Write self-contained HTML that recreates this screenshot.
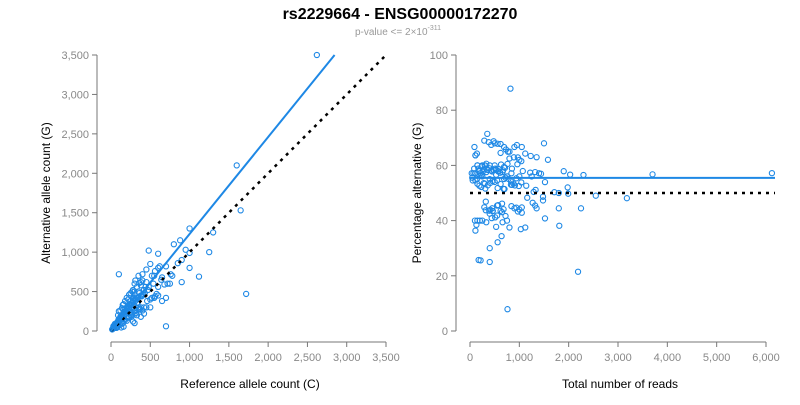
<!DOCTYPE html>
<html><head><meta charset="utf-8"><style>
body{margin:0;background:#fff;font-family:"Liberation Sans",Arial,sans-serif}
svg text{font-family:"Liberation Sans",Arial,sans-serif}
</style></head><body>
<svg id="c" width="800" height="400" xmlns="http://www.w3.org/2000/svg">
<text x="400" y="19" text-anchor="middle" font-size="16" font-weight="bold">rs2229664 - ENSG00000172270</text>
<text x="398" y="35" text-anchor="middle" font-size="10" fill="#999">p-value &lt;= 2×10<tspan dy="-5" font-size="7">-311</tspan></text>
<g id="left"></g>
<g id="right"></g>
<text x="250" y="388" text-anchor="middle" font-size="12">Reference allele count (C)</text>
<text transform="translate(50,193) rotate(-90)" text-anchor="middle" font-size="12">Alternative allele count (G)</text>
<text x="620" y="388" text-anchor="middle" font-size="12">Total number of reads</text>
<text transform="translate(421,193) rotate(-90)" text-anchor="middle" font-size="12">Percentage alternative (G)</text>
</svg>
<script>
const refCounts=[2620,1600,1720,700,1120,1650,1250,950,800,480,100,900,1000,780,620,560,520,600,450,430,400,380,350,330,300,290,280,260,250,240,230,220,210,200,190,180,170,160,150,140,130,120,110,100,90,80,70,60,50,40,30,25,20,15,520,480,460,420,400,380,360,340,320,300,280,260,240,220,200,180,160,140,120,100,80,60,300,350,250,270,310,330,420,440,500,540,580,650,680,720,760,850,330,280,230,190,150,120,90,70,410,370,290,260,210,170,140,110,85,65,45,35,600,550,470,390,310,240,180,130,95,230,260,200,160,350,380,250,300,1300,1000,880,640,700,560,
300,280,230,500,400,350,600,450,200,150,120,80,700,900,260,320,180,550,750,1000,650,420,380,130,160,
100,150,200,250,180,300,350,280,220,400,450,120,90,500,330,270,380,160,600,230,140,310,360,
60,40,50,70,30,90,110];
const altCounts=[3500,2100,470,60,690,1530,1000,1030,1100,1020,720,900,990,700,820,760,700,560,620,480,640,450,500,420,460,330,390,350,300,340,270,310,250,280,220,250,190,230,160,200,150,180,120,150,100,110,80,90,60,70,40,30,25,20,420,560,380,520,450,300,480,360,400,250,380,200,330,170,300,220,240,160,180,130,110,90,500,430,380,290,260,350,300,560,400,600,470,680,590,600,720,860,200,410,300,260,210,170,120,100,470,280,420,200,300,150,190,150,110,80,60,50,800,700,520,440,380,330,250,200,140,180,350,280,130,300,580,200,210,1250,1300,1150,650,820,440,
100,120,170,300,260,270,450,300,130,100,80,50,420,620,180,230,140,420,600,800,380,220,180,45,55,
250,330,420,480,380,600,700,520,400,720,780,260,200,850,560,500,620,340,980,460,290,640,610,
40,70,90,40,60,60,140];
const leftFitSlope=1.23, rightFitPct=55.5;
const leftTicks=[0,500,1000,1500,2000,2500,3000,3500];
const rightXTicks=[0,1000,2000,3000,4000,5000,6000];
const rightYTicks=[0,20,40,60,80,100];
const NS='http://www.w3.org/2000/svg';
function mk(p,tag,a){const e=document.createElementNS(NS,tag);for(const k in a)e.setAttribute(k,a[k]);p.appendChild(e);return e;}
const fmt=v=>v.toLocaleString('en-US');
const L=document.getElementById('left'),R=document.getElementById('right');
const lx=v=>111+v*(386-111)/3500, ly=v=>331-v*(331-55)/3500;
const rx=v=>470+v*(766-470)/6000, ry=v=>331-v*(331-55)/100;
function axes(g,xs,ys,xt,yt,xFirst,xLast,yFirst,yLast,yaxX,xaxY,pref){
  let e=mk(g,'line',{x1:yaxX,x2:yaxX,y1:ys(yFirst),y2:ys(yLast),stroke:'#777'});
  
  e=mk(g,'line',{x1:xs(xFirst),x2:xs(xLast),y1:xaxY,y2:xaxY,stroke:'#777'});
  
  yt.forEach(v=>{mk(g,'line',{x1:yaxX-5,x2:yaxX,y1:ys(v),y2:ys(v),stroke:'#777'});
    const t=mk(g,'text',{x:yaxX-8,y:ys(v)+4,'text-anchor':'end','font-size':11,fill:'#888'});t.textContent=fmt(v);
    });
  xt.forEach(v=>{mk(g,'line',{x1:xs(v),x2:xs(v),y1:xaxY,y2:xaxY+5,stroke:'#777'});
    const t=mk(g,'text',{x:xs(v),y:xaxY+19,'text-anchor':'middle','font-size':11,fill:'#888'});t.textContent=fmt(v);
    });
}
axes(L,lx,ly,leftTicks,leftTicks,0,3500,0,3500,97,342,'left');
axes(R,rx,ry,rightXTicks,rightYTicks,0,6000,0,100,456,342,'right');
refCounts.forEach((r,i)=>{const a=altCounts[i];
  const c=mk(L,'circle',{cx:lx(r),cy:ly(a),r:2.6,fill:'none',stroke:'#1e88e5','stroke-width':1.1});
  
  const t=r+a;
  const d=mk(R,'circle',{cx:rx(t),cy:ry(a/t*100),r:2.6,fill:'none',stroke:'#1e88e5','stroke-width':1.1});
  });
let e=mk(L,'line',{x1:lx(0),y1:ly(0),x2:lx(3500),y2:ly(3500),stroke:'#000','stroke-width':2.5,'stroke-dasharray':'3,5'});

const xe=3500/leftFitSlope;
e=mk(L,'line',{x1:lx(0),y1:ly(0),x2:lx(xe),y2:ly(3500),stroke:'#1e88e5','stroke-width':2});

e=mk(R,'line',{x1:rx(0),y1:ry(50),x2:775,y2:ry(50),stroke:'#000','stroke-width':2.5,'stroke-dasharray':'3,5'});

e=mk(R,'line',{x1:rx(0),y1:ry(rightFitPct),x2:775,y2:ry(rightFitPct),stroke:'#1e88e5','stroke-width':2});

</script>
</body></html>
